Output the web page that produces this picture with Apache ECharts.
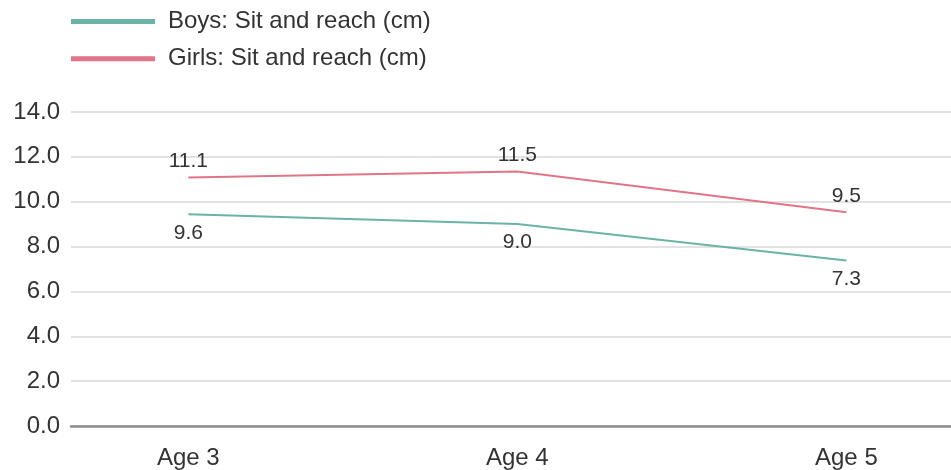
<!DOCTYPE html>
<html>
<head>
<meta charset="utf-8">
<script src="https://cdn.jsdelivr.net/npm/echarts@6/dist/echarts.min.js"></script>
<style>
html,body{margin:0;padding:0;background:#fff;}
#chart{width:951px;height:470px;}
</style>
</head>
<body>
<div id="chart"></div>
<script>
var categories = ['Age 3', 'Age 4', 'Age 5'];
var seriesNames = ['Boys: Sit and reach (cm)', 'Girls: Sit and reach (cm)'];
var boysValues = [9.44, 9.01, 7.38];
var girlsValues = [11.08, 11.35, 9.53];
var boysLabels = ['9.6', '9.0', '7.3'];
var girlsLabels = ['11.1', '11.5', '9.5'];
var yTicks = [0, 2, 4, 6, 8, 10, 12, 14];

var FONT = 'Liberation Sans, Arial, Helvetica, sans-serif';
var TEXT = '#333333';

function toPoints(vals) {
  return vals.map(function (v, i) { return [i, v]; });
}

var chart = echarts.init(document.getElementById('chart'));
chart.setOption({
  animation: false,
  textStyle: { fontFamily: FONT },
  legend: {
    orient: 'vertical',
    left: 71,
    top: 9.5,
    padding: 0,
    icon: 'rect',
    itemWidth: 84,
    itemHeight: 5,
    itemGap: 13.3,
    textStyle: { fontSize: 24, lineHeight: 24, color: TEXT, fontFamily: FONT, padding: [0, 0, 0, 8] },
    data: seriesNames
  },
  grid: { left: 71, right: 0, top: 112, bottom: 41.3, containLabel: false },
  xAxis: {
    type: 'value',
    min: -0.3565,
    max: 2.318,
    axisLine: { show: true, lineStyle: { color: '#8c8c8c', width: 2.5 } },
    axisTick: { show: false },
    splitLine: { show: false },
    axisLabel: {
      customValues: [0, 1, 2],
      formatter: function (v) { return categories[Math.round(v)]; },
      fontSize: 24,
      color: TEXT,
      fontFamily: FONT,
      margin: 20
    }
  },
  yAxis: {
    type: 'value',
    min: yTicks[0],
    max: yTicks[yTicks.length - 1],
    interval: 2,
    axisLine: { show: false },
    axisTick: { show: false },
    splitLine: { show: true, lineStyle: { color: '#d9d9d9', width: 1.5 } },
    axisLabel: {
      formatter: function (v) { return v.toFixed(1); },
      fontSize: 24,
      color: TEXT,
      fontFamily: FONT,
      margin: 11
    }
  },
  series: [
    {
      name: seriesNames[0],
      type: 'line',
      data: toPoints(boysValues),
      color: '#6bb3a7',
      lineStyle: { width: 2, color: '#6bb3a7' },
      symbol: 'circle',
      symbolSize: 0.01,
      showSymbol: true,
      label: {
        show: true,
        position: 'bottom',
        distance: 8,
        fontSize: 21,
        color: TEXT,
        fontFamily: FONT,
        formatter: function (p) { return boysLabels[p.dataIndex]; }
      }
    },
    {
      name: seriesNames[1],
      type: 'line',
      data: toPoints(girlsValues),
      color: '#e07589',
      lineStyle: { width: 2, color: '#e07589' },
      symbol: 'circle',
      symbolSize: 0.01,
      showSymbol: true,
      label: {
        show: true,
        position: 'top',
        distance: 6,
        fontSize: 21,
        color: TEXT,
        fontFamily: FONT,
        formatter: function (p) { return girlsLabels[p.dataIndex]; }
      }
    }
  ]
});
</script>
</body>
</html>
